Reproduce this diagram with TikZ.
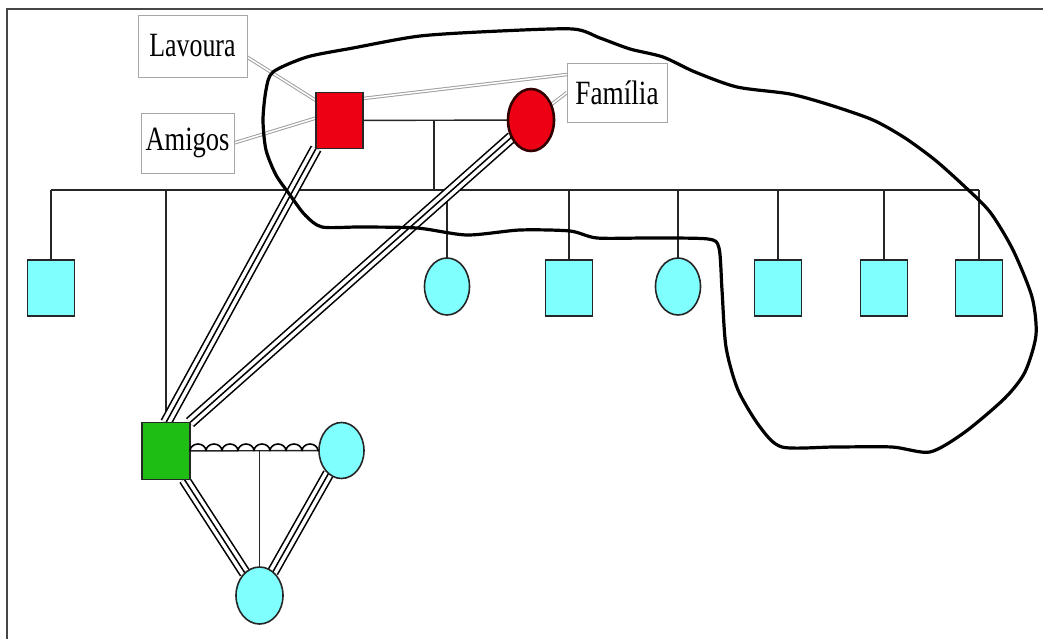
\documentclass[tikz,border=0pt]{standalone}
\usepackage{fontspec}
\usepackage{graphicx}
\setmainfont{Liberation Serif}
\usetikzlibrary{shapes.geometric,calc,backgrounds}
\definecolor{kidfill}{RGB}{128,255,255}
\definecolor{egofill}{RGB}{30,190,20}
\definecolor{redfill}{RGB}{238,0,20}
\definecolor{framegray}{RGB}{70,70,70}
\begin{document}
\begin{tikzpicture}[x=1pt,y=-1pt,
  every node/.style={inner sep=0pt, outer sep=0pt},
  male/.style={rectangle, draw=black!85, line width=1.6, minimum width=47, minimum height=56},
  female/.style={ellipse, draw=black!85, line width=1.6, minimum width=45, minimum height=57},
  kin/.style={line width=1.4, draw=black!85},
  triline/.style={draw=black, line width=12, postaction={draw=white, line width=8.8}, postaction={draw=black, line width=1.5}},
  tie/.style={draw=gray!75, line width=1, double=white, double distance=1.5},
  tagbox/.style={rectangle, draw=gray!70, line width=0.9, fill=white, font=\fontsize{34}{38}\selectfont}
]
\useasboundingbox (0,0) rectangle (1043,639);

% page frame (top and left edges)
\draw[framegray, line width=1.8] (7,639) -- (7,9) -- (1043,9);

% parents
\node[male, fill=redfill] (rsq) at (339.5,120.5) {};
\node[female, fill=redfill, draw=black!80!red, line width=2.6, minimum width=46, minimum height=62] (rell) at (531,120) {};

% children row
\node[male, fill=kidfill] (c1) at (51,288) {};
\node[male, fill=egofill, minimum width=48, minimum height=57] (gsq) at (166,451) {};
\node[female, fill=kidfill] (c2) at (447,286.5) {};
\node[male, fill=kidfill] (c3) at (569,288) {};
\node[female, fill=kidfill] (c4) at (678,286.5) {};
\node[male, fill=kidfill] (c5) at (778,288) {};
\node[male, fill=kidfill] (c6) at (884,288) {};
\node[male, fill=kidfill] (c7) at (979,288) {};

% spouse and child of the green ego
\node[female, fill=kidfill, minimum width=45, minimum height=56] (rel) at (341.5,450.5) {};
\node[female, fill=kidfill, minimum width=47, minimum height=57] (bel) at (259.5,595.5) {};

% labels
\node[tagbox, minimum width=109, minimum height=62] (lav) at (192.5,46) {\scalebox{0.76}[1]{Lavoura}};
\node[tagbox, minimum width=93, minimum height=60] (ami) at (187.5,143) {\scalebox{0.78}[1]{Amigos}};
\node[tagbox, minimum width=100, minimum height=59] (fam) at (617,92.5) {\scalebox{0.8}[1]{Família}};

\coordinate (pm) at (434,120);
\coordinate (sibL) at (51,190);
\coordinate (sibR) at (979,190);

\begin{scope}[on background layer]
  % genealogical lines
  \draw[kin] (rsq) -- (rell);
  \draw[kin] (pm) -- (pm |- sibL);
  \draw[kin] (sibL) -- (sibR);
  \foreach \k in {c1,gsq,c2,c3,c4,c5,c6,c7}
    \draw[kin] (\k.north) -- (\k.north |- sibL);
  \draw[kin] (gsq) -- (rel);
  \draw[kin] (bel.north) -- (bel.north |- rel.center);

  % close ties
  \draw[triline] (gsq.north) -- (rsq.south west);
  \draw[triline] (gsq.north east) -- (rell);
  \draw[triline] (gsq) -- (bel);
  \draw[triline] (rel) -- (bel);

  % links to the labels
  \draw[tie] ($(lav.east)+(0,11)$) -- ($(rsq.west)+(0,-20)$);
  \draw[tie] (ami.east) -- ($(rsq.west)+(0,-2.5)$);
  \draw[tie] ($(fam.west)+(0,-18)$) -- ($(rsq.east)+(0,-22)$);
  \draw[tie] (fam.west) -- (rell);
\end{scope}

% conflictual bond drawn as scallops over the union line
\foreach \i in {0,...,7}
  \draw[line width=1.6] ($(gsq.east)+(\i*16,0)$) arc[start angle=180, end angle=360, x radius=8, y radius=7];

% hand-drawn boundary of the network
\draw[line width=3.2, line join=round] plot[smooth cycle, tension=0.45] coordinates {
  (273,72) (307,57) (353,48) (420,36) (500,31) (573,29) (600,38) (630,49) (663,57)
  (695,72) (737,87) (790,94) (830,105) (873,120) (905,138) (935,160) (963,185)
  (990,212) (1013,250) (1032,297) (1036,335) (1025,372) (1005,398) (965,432)
  (930,452) (892,447) (835,447) (782,447) (760,427) (738,390) (726,347) (722,290)
  (719,248) (708,239) (650,238) (597,238) (570,231) (520,230) (467,235) (417,228)
  (360,227) (322,227) (305,215) (290,195) (276,175) (266,150) (263,120) (266,90)};
\end{tikzpicture}
\end{document}
